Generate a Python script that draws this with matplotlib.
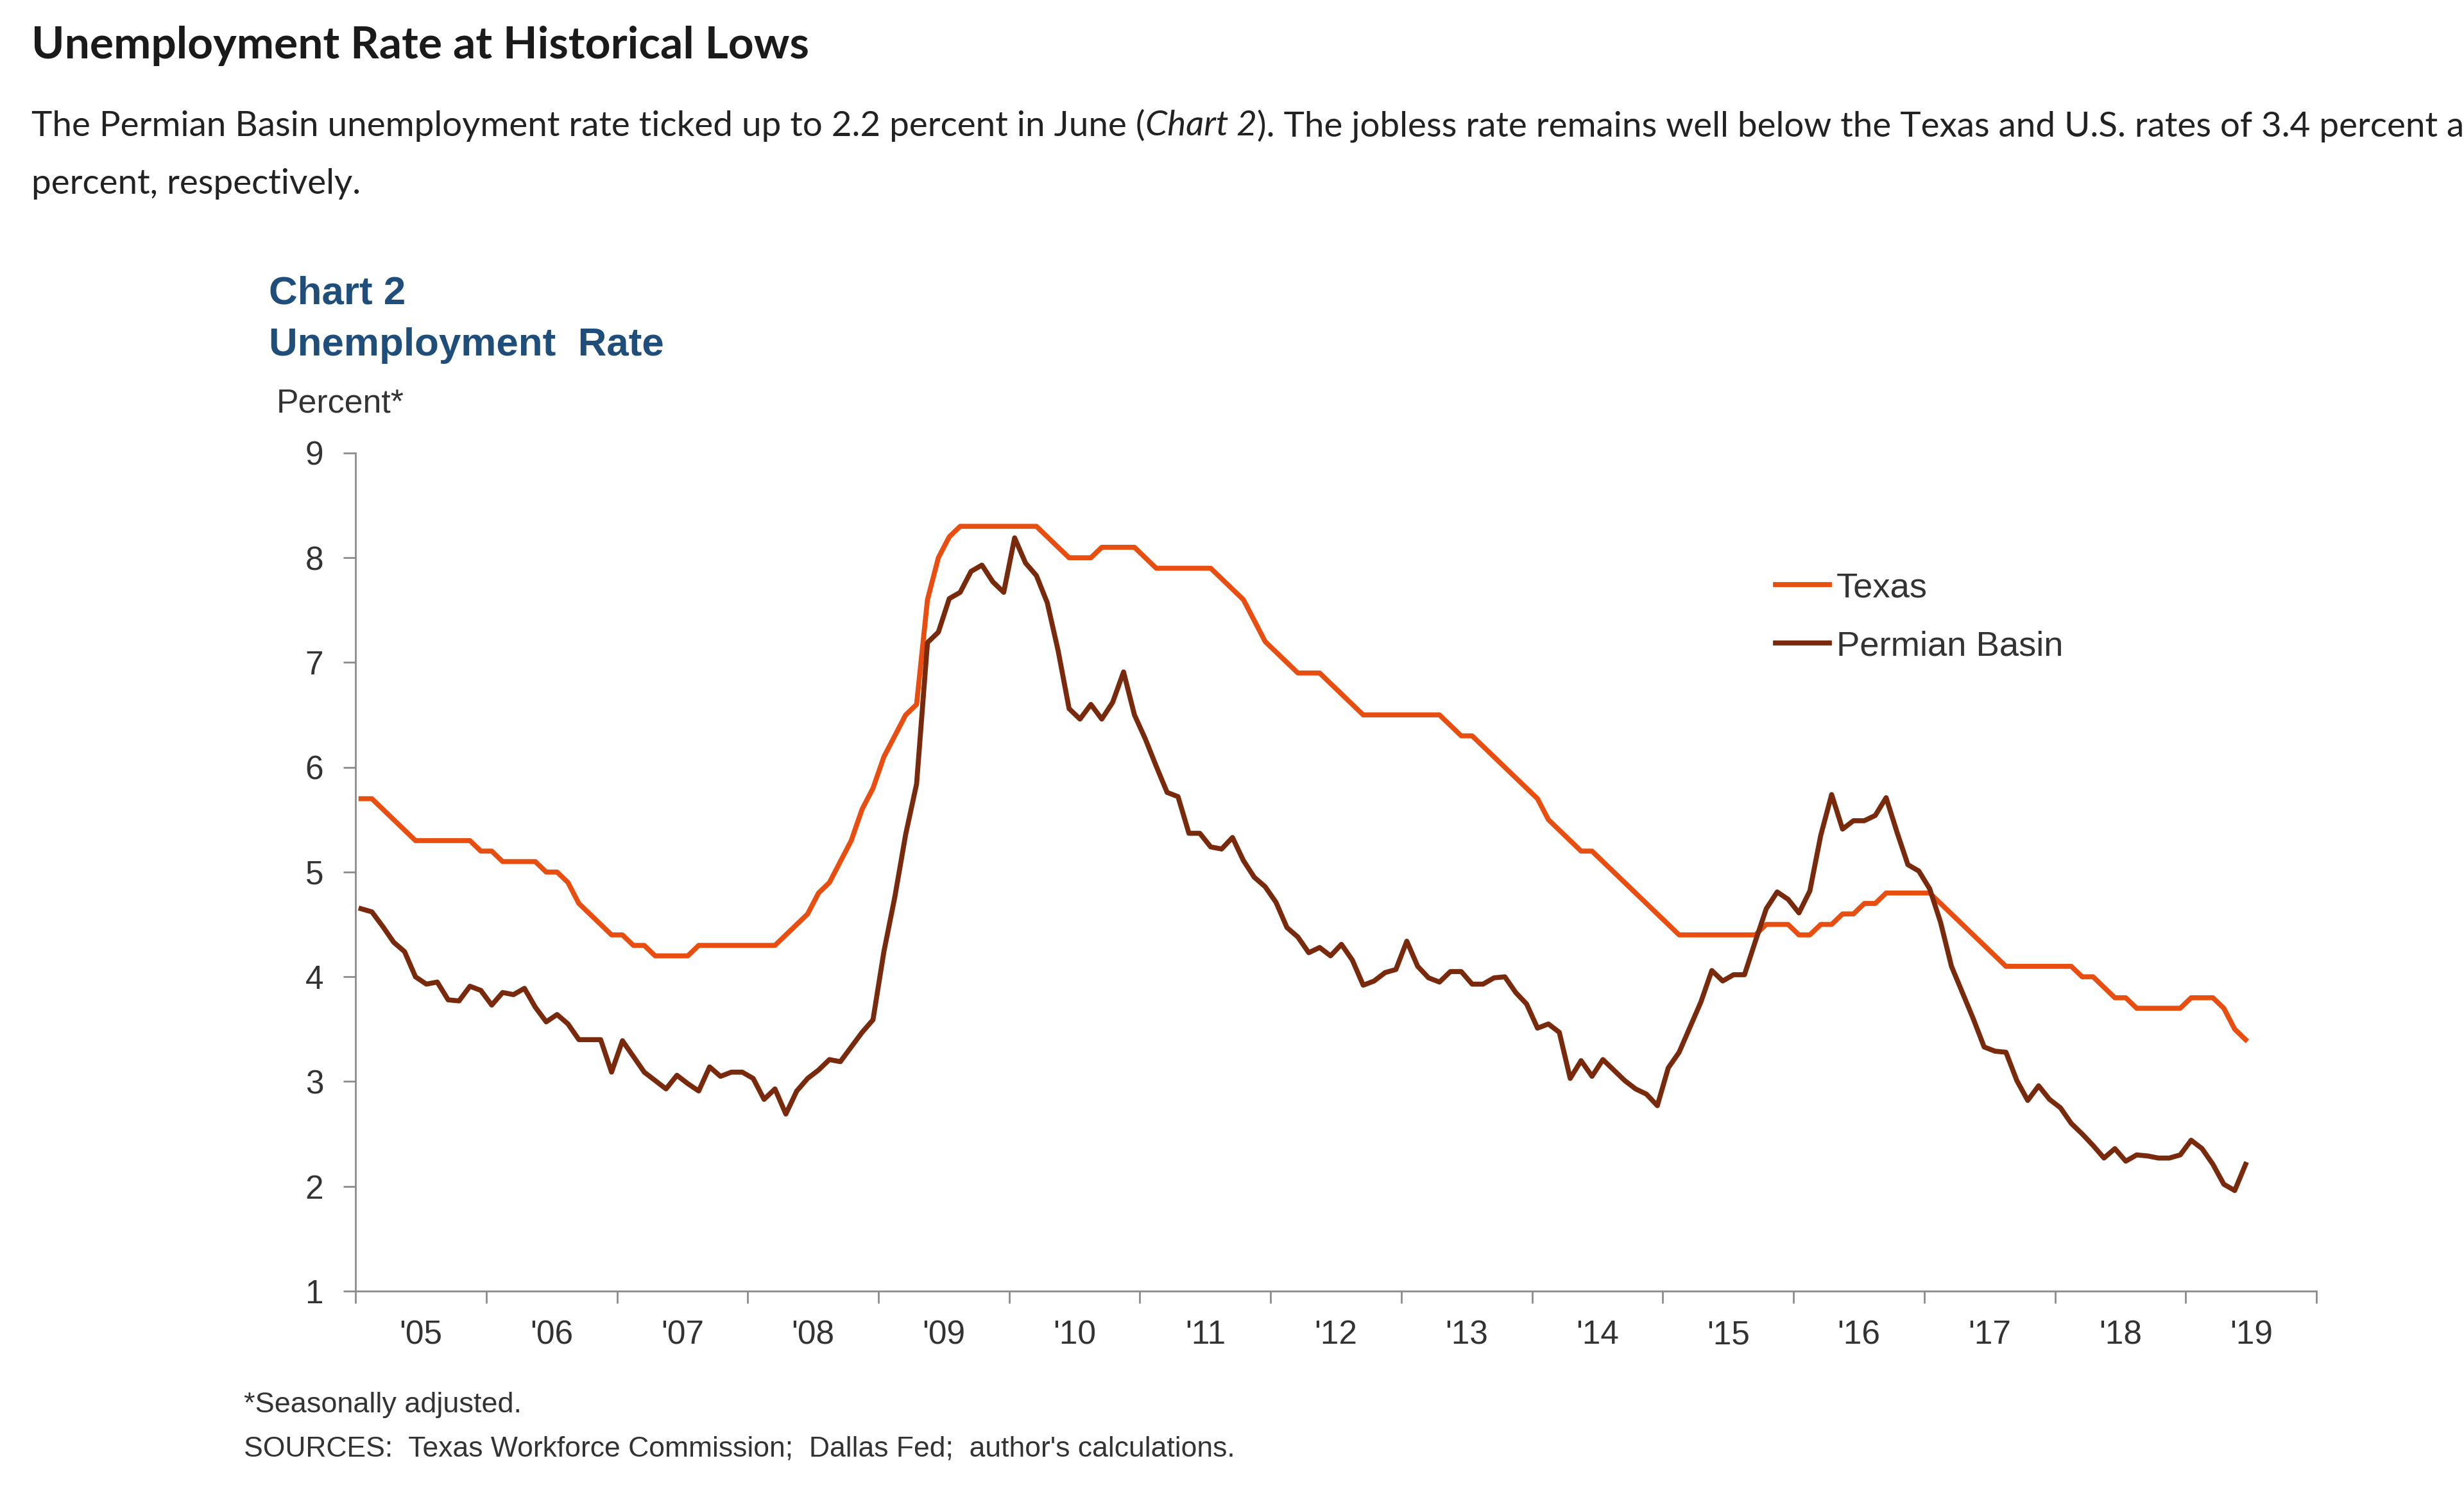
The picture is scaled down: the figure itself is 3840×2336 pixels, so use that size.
import numpy as np
import pandas as pd
import matplotlib
matplotlib.use("Agg")
import matplotlib.pyplot as plt

# monthly unemployment rate, Jan 2005 - Jun 2019 (percent, seasonally adjusted)
texas = [
    5.7, 5.7, 5.6, 5.5, 5.4, 5.3, 5.3, 5.3, 5.3, 5.3, 5.3, 5.2,   # 2005
    5.2, 5.1, 5.1, 5.1, 5.1, 5.0, 5.0, 4.9, 4.7, 4.6, 4.5, 4.4,   # 2006
    4.4, 4.3, 4.3, 4.2, 4.2, 4.2, 4.2, 4.3, 4.3, 4.3, 4.3, 4.3,   # 2007
    4.3, 4.3, 4.3, 4.4, 4.5, 4.6, 4.8, 4.9, 5.1, 5.3, 5.6, 5.8,   # 2008
    6.1, 6.3, 6.5, 6.6, 7.6, 8.0, 8.2, 8.3, 8.3, 8.3, 8.3, 8.3,   # 2009
    8.3, 8.3, 8.3, 8.2, 8.1, 8.0, 8.0, 8.0, 8.1, 8.1, 8.1, 8.1,   # 2010
    8.0, 7.9, 7.9, 7.9, 7.9, 7.9, 7.9, 7.8, 7.7, 7.6, 7.4, 7.2,   # 2011
    7.1, 7.0, 6.9, 6.9, 6.9, 6.8, 6.7, 6.6, 6.5, 6.5, 6.5, 6.5,   # 2012
    6.5, 6.5, 6.5, 6.5, 6.4, 6.3, 6.3, 6.2, 6.1, 6.0, 5.9, 5.8,   # 2013
    5.7, 5.5, 5.4, 5.3, 5.2, 5.2, 5.1, 5.0, 4.9, 4.8, 4.7, 4.6,   # 2014
    4.5, 4.4, 4.4, 4.4, 4.4, 4.4, 4.4, 4.4, 4.4, 4.5, 4.5, 4.5,   # 2015
    4.4, 4.4, 4.5, 4.5, 4.6, 4.6, 4.7, 4.7, 4.8, 4.8, 4.8, 4.8,   # 2016
    4.8, 4.7, 4.6, 4.5, 4.4, 4.3, 4.2, 4.1, 4.1, 4.1, 4.1, 4.1,   # 2017
    4.1, 4.1, 4.0, 4.0, 3.9, 3.8, 3.8, 3.7, 3.7, 3.7, 3.7, 3.7,   # 2018
    3.8, 3.8, 3.8, 3.7, 3.5, 3.4,                                 # 2019
]

permian = [
    4.65, 4.62, 4.48, 4.33, 4.24, 4.00, 3.93, 3.95, 3.78, 3.77, 3.91, 3.87,  # 2005
    3.73, 3.85, 3.83, 3.89, 3.71, 3.57, 3.64, 3.55, 3.40, 3.40, 3.40, 3.09,  # 2006
    3.39, 3.24, 3.09, 3.01, 2.93, 3.06, 2.98, 2.91, 3.14, 3.05, 3.09, 3.09,  # 2007
    3.03, 2.83, 2.93, 2.69, 2.91, 3.03, 3.11, 3.21, 3.19, 3.33, 3.47, 3.59,  # 2008
    4.24, 4.76, 5.36, 5.84, 7.19, 7.29, 7.61, 7.67, 7.87, 7.93, 7.77, 7.67,  # 2009
    8.19, 7.95, 7.83, 7.57, 7.11, 6.56, 6.46, 6.60, 6.46, 6.62, 6.91, 6.50,  # 2010
    6.27, 6.01, 5.76, 5.72, 5.37, 5.37, 5.24, 5.22, 5.33, 5.11, 4.95, 4.86,  # 2011
    4.71, 4.47, 4.38, 4.23, 4.28, 4.20, 4.31, 4.16, 3.92, 3.96, 4.04, 4.07,  # 2012
    4.34, 4.10, 3.99, 3.95, 4.05, 4.05, 3.93, 3.93, 3.99, 4.00, 3.85, 3.74,  # 2013
    3.51, 3.55, 3.47, 3.03, 3.20, 3.05, 3.21, 3.11, 3.01, 2.93, 2.88, 2.77,  # 2014
    3.13, 3.28, 3.52, 3.76, 4.06, 3.96, 4.02, 4.02, 4.34, 4.65, 4.81, 4.74,  # 2015
    4.61, 4.82, 5.35, 5.74, 5.41, 5.49, 5.49, 5.54, 5.71, 5.38, 5.07, 5.01,  # 2016
    4.84, 4.52, 4.10, 3.85, 3.60, 3.33, 3.29, 3.28, 3.01, 2.82, 2.96, 2.83,  # 2017
    2.75, 2.60, 2.50, 2.39, 2.27, 2.36, 2.24, 2.30, 2.29, 2.27, 2.27, 2.30,  # 2018
    2.44, 2.36, 2.21, 2.02, 1.96, 2.21,                                      # 2019
]

years = list(range(2005, 2020))
year_labels = ["'%02d" % (y % 100) for y in years]
y_ticks = list(range(1, 10))

dates = pd.date_range("2005-01-01", periods=len(texas), freq="MS")
xpos = dates.year + (dates.month - 0.5) / 12.0

TX_COLOR = "#E84E10"
PB_COLOR = "#7A2A0C"
BLUE = "#1F4E7A"
AXIS_GRAY = "#8C8C8C"
TEXT_GRAY = "#333333"

fig = plt.figure(figsize=(19.2, 11.68), dpi=200)
fig.patch.set_facecolor("white")

# page heading and paragraph
fig.text(0.0128, 0.9695, "Unemployment Rate at Historical Lows", family="Lato",
         weight="bold", fontsize=25, color="#1a1a1a", va="center", ha="left")


def draw_runs(x, y, runs, **kw):
    renderer = fig.canvas.get_renderer()
    inv = fig.transFigure.inverted()
    for s, style in runs:
        t = fig.text(x, y, s, style=style, **kw)
        bb = t.get_window_extent(renderer)
        x = inv.transform((bb.x1, bb.y0))[0]


para_kw = dict(family="Lato", fontsize=19.7, color="#222222", va="center", ha="left")
draw_runs(0.0128, 0.9162, [
    ("The Permian Basin unemployment rate ticked up to 2.2 percent in June (", "normal"),
    ("Chart 2", "italic"),
    ("). The jobless rate remains well below the Texas and U.S. rates of 3.4 percent and 3.6", "normal"),
], **para_kw)
fig.text(0.0128, 0.8774, "percent, respectively.", **para_kw)

# chart heading
fig.text(0.109, 0.804, "Chart 2", family="Liberation Sans", weight="bold",
         fontsize=22.3, color=BLUE, va="center", ha="left")
fig.text(0.109, 0.7695, "Unemployment  Rate", family="Liberation Sans", weight="bold",
         fontsize=22.3, color=BLUE, va="center", ha="left")
fig.text(0.1122, 0.7306, "Percent*", family="Liberation Sans", fontsize=18.7,
         color=TEXT_GRAY, va="center", ha="left")

ax = fig.add_axes([0.1443, 0.1387, 0.7958, 0.5591])
ax.plot(xpos, texas, color=TX_COLOR, lw=2.8, label="Texas", solid_joinstyle="round")
ax.plot(xpos, permian, color=PB_COLOR, lw=2.8, label="Permian Basin", solid_joinstyle="round")

ax.set_xlim(2005, 2020)
ax.set_ylim(1, 9)
ax.set_yticks(y_ticks)
ax.set_yticklabels([str(v) for v in y_ticks])
ax.set_xticks(list(range(2005, 2021)))
ax.set_xticklabels([])
ax.set_xticks([y + 0.5 for y in years], minor=True)
ax.set_xticklabels(year_labels, minor=True)

for side in ["top", "right"]:
    ax.spines[side].set_visible(False)
for side in ["left", "bottom"]:
    ax.spines[side].set_color(AXIS_GRAY)
    ax.spines[side].set_linewidth(1.0)

ax.tick_params(axis="y", direction="out", length=7, width=1.0, color=AXIS_GRAY,
               pad=11, labelsize=18.5, labelcolor=TEXT_GRAY)
ax.tick_params(axis="x", which="major", direction="out", length=7, width=1.0,
               color=AXIS_GRAY)
ax.tick_params(axis="x", which="minor", length=0, pad=16, labelsize=18.5,
               labelcolor=TEXT_GRAY)
for lab in ax.get_yticklabels() + ax.get_xticklabels(minor=True):
    lab.set_family("Liberation Sans")

leg = ax.legend(loc="upper left", bbox_to_anchor=(0.724, 0.858), frameon=False,
                borderpad=0, borderaxespad=0, handlelength=1.55, handletextpad=0.2,
                labelspacing=0.75, prop={"family": "Liberation Sans", "size": 19.6})
for t in leg.get_texts():
    t.set_color(TEXT_GRAY)

# notes
fig.text(0.099, 0.0628, "*Seasonally adjusted.", family="Liberation Sans",
         fontsize=16.2, color=TEXT_GRAY, va="center", ha="left")
fig.text(0.099, 0.0334, "SOURCES:  Texas Workforce Commission;  Dallas Fed;  author's calculations.",
         family="Liberation Sans", fontsize=16, color=TEXT_GRAY, va="center", ha="left")

fig.savefig("out.png", dpi=200, facecolor="white")
